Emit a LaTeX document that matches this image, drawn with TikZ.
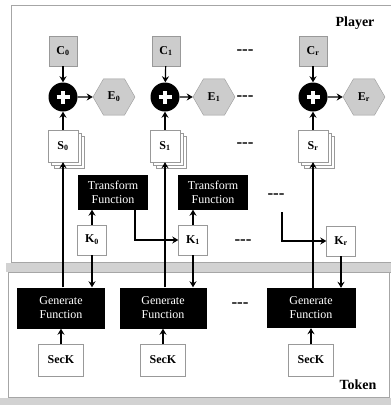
\documentclass[tikz,border=0pt]{standalone}
\usepackage{fontspec}
\setmainfont{Liberation Serif}
\usetikzlibrary{positioning,shapes.geometric,shadows,arrows.meta}
\tikzset{
  link/.style={line width=1.2pt, -{Stealth[length=6pt,width=7pt]}},
  plain/.style={line width=1.2pt},
  shaded/.style={fill=gray!35},
  cipher/.style={draw=gray!80, fill=gray!40, minimum width=28pt, minimum height=30pt, inner sep=0pt, font=\fontsize{12}{14}\selectfont\bfseries},
  piece/.style={regular polygon, regular polygon sides=6, draw=gray!80, fill=gray!40, minimum size=42pt, inner sep=0pt, font=\fontsize{12}{14}\selectfont\bfseries},
  xorop/.style={circle, fill=black, minimum size=29pt, inner sep=0pt,
    path picture={\draw[white, line width=3.2pt] ([xshift=-6.5pt]path picture bounding box.center) -- ([xshift=6.5pt]path picture bounding box.center)
                                                  ([yshift=-6.5pt]path picture bounding box.center) -- ([yshift=6.5pt]path picture bounding box.center);}},
  seed/.style={draw=gray!80, fill=white, minimum width=30pt, minimum height=32pt, inner sep=0pt, font=\fontsize{12}{14}\selectfont\bfseries,
    double copy shadow={shadow xshift=3pt, shadow yshift=-3pt, draw=gray!80, fill=white}},
  keybox/.style={draw=gray!80, fill=white, minimum width=29pt, minimum height=30pt, inner sep=0pt, font=\fontsize{12}{14}\selectfont\bfseries},
  funcbox/.style={fill=black, text=white, align=center, inner sep=0pt, font=\fontsize{12}{14}\selectfont},
  secbox/.style={draw=gray!80, fill=white, minimum width=45pt, minimum height=32pt, inner sep=0pt, font=\fontsize{12}{14}\selectfont\bfseries},
  gap/.style={font=\fontsize{17}{18}\selectfont\bfseries}
}

\begin{document}
\begin{tikzpicture}[x=1pt, y=-1pt, font=\fontsize{12}{14}\selectfont]
  \useasboundingbox (0,0) rectangle (391,405);

  % the two areas
  \draw[gray!70] (392,5) -- (11,5) -- (11,262) -- (392,262);
  \fill[shaded] (6,263) rectangle (391,272);
  \draw[gray!70] (392,272) -- (8,272) -- (8,397) -- (389,397) -- (389,272);
  \fill[shaded] (0,398) rectangle (391,405);
  \node[font=\fontsize{14}{16}\selectfont\bfseries] (player) at (355,23) {Player};
  \node[font=\fontsize{14}{16}\selectfont\bfseries] (token) at (358,385) {Token};

  % column 0
  \node[cipher] (c0) at (63,51) {C\textsubscript{0}};
  \node[xorop] (x0) at (63,97) {};
  \node[piece] (e0) at (114,97) {E\textsubscript{0}};
  \node[seed] (s0) at (63,146) {S\textsubscript{0}};
  \node[funcbox, minimum width=70pt, minimum height=35pt] (t0) at (113,192) {Transform\\Function};
  \node[keybox] (k0) at (92,240) {K\textsubscript{0}};
  \node[funcbox, minimum width=88pt, minimum height=41pt] (g0) at (61,308) {Generate\\Function};
  \node[secbox] (sk0) at (61,360) {SecK};

  % column 1
  \node[cipher] (c1) at (166,51) {C\textsubscript{1}};
  \node[xorop] (x1) at (165,97) {};
  \node[piece] (e1) at (214,97) {E\textsubscript{1}};
  \node[seed] (s1) at (165,146) {S\textsubscript{1}};
  \node[funcbox, minimum width=70pt, minimum height=35pt] (t1) at (213,192) {Transform\\Function};
  \node[keybox] (k1) at (193,240) {K\textsubscript{1}};
  \node[funcbox, minimum width=87pt, minimum height=41pt] (g1) at (163,308) {Generate\\Function};
  \node[secbox] (sk1) at (163,360) {SecK};

  % column r
  \node[cipher] (cr) at (313,51) {C\textsubscript{r}};
  \node[xorop] (xr) at (313,97) {};
  \node[piece] (er) at (364,97) {E\textsubscript{r}};
  \node[seed] (sr) at (313,146) {S\textsubscript{r}};
  \coordinate (tr) at (282,212);
  \node[keybox] (kr) at (341,241) {K\textsubscript{r}};
  \node[funcbox, minimum width=89pt, minimum height=40pt] (gr) at (311,308) {Generate\\Function};
  \node[secbox] (skr) at (311,360) {SecK};

  % dots between columns
  \node[gap] (d1) at (245,52) {-{}-{}-};
  \node[gap] (d2) at (245,98) {-{}-{}-};
  \node[gap] (d3) at (245,145) {-{}-{}-};
  \node[gap] (d4) at (276,196) {-{}-{}-};
  \node[gap] (d5) at (243,242) {-{}-{}-};
  \node[gap] (d6) at (240,305) {-{}-{}-};

  % connectors
  \draw[link] (c0) -- (x0);
  \draw[link] (s0) -- (x0);
  \draw[link] (x0) -- (e0);
  \draw[link] (s0.south |- g0.north) -- (s0.south);
  \draw[link] (k0.north) -- (k0.north |- t0.south);
  \draw[link] (k0.south) -- (k0.south |- g0.north);
  \draw[link] ([xshift=22pt]t0.south) |- (k1.west);
  \draw[link] (sk0) -- (g0);

  \draw[link] (c1) -- (x1);
  \draw[link] (s1) -- (x1);
  \draw[link] (x1) -- (e1);
  \draw[link] (s1.south |- g1.north) -- (s1.south);
  \draw[link] (k1.north) -- (k1.north |- t1.south);
  \draw[link] (k1.south) -- (k1.south |- g1.north);
  \draw[link] (sk1) -- (g1);

  \draw[link] (cr) -- (xr);
  \draw[link] (sr) -- (xr);
  \draw[link] (xr) -- (er);
  \draw[link] (sr.south |- gr.north) -- (sr.south);
  \draw[link] (tr) |- (kr.west);
  \draw[link] (kr.south) -- (kr.south |- gr.north);
  \draw[link] (skr) -- (gr);
\end{tikzpicture}
\end{document}
